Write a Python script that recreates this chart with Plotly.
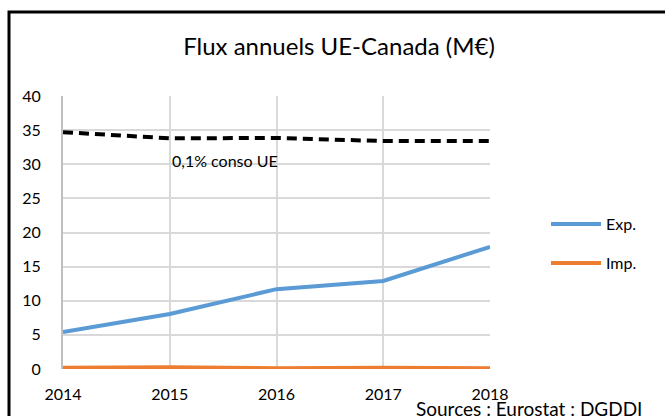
import plotly.graph_objects as go

years = [2014, 2015, 2016, 2017, 2018]
exp_vals = [5.4, 8.05, 11.7, 12.9, 17.9]
imp_vals = [0.2, 0.25, 0.1, 0.2, 0.1]
conso_vals = [34.7, 33.8, 33.85, 33.4, 33.4]
y_ticks = [0, 5, 10, 15, 20, 25, 30, 35, 40]

W, H = 665, 416
L, R, T, B = 63, 490, 96, 369
FONT = "Lato"

fig = go.Figure()
fig.add_trace(go.Scatter(x=years, y=conso_vals, mode="lines", showlegend=False,
                         line=dict(color="black", width=4, dash="10px,6px"), hoverinfo="skip"))
fig.add_trace(go.Scatter(x=years, y=exp_vals, mode="lines", name="Exp.", legend="legend",
                         line=dict(color="#5B9BD5", width=4)))
fig.add_trace(go.Scatter(x=years, y=imp_vals, mode="lines", name="Imp.", legend="legend2",
                         line=dict(color="#ED7D31", width=4)))

pw = R - L
ph = B - T
def px(x):
    return (x - L) / pw
def py(y):
    return (B - y) / ph

leg_common = dict(xanchor="left", yanchor="middle", font=dict(size=16, family=FONT),
                  bgcolor="rgba(0,0,0,0)", itemwidth=50)

fig.update_layout(
    width=W, height=H,
    margin=dict(l=L, r=W - R, t=T, b=H - B, pad=0),
    paper_bgcolor="white", plot_bgcolor="white",
    font=dict(family=FONT, size=16, color="black"),
    title=dict(text="Flux annuels UE-Canada (M€)", x=339 / W, xanchor="center",
               y=1 - 47 / H, yanchor="middle", font=dict(size=24, family=FONT)),
    xaxis=dict(range=[2014, 2018], tickvals=years, ticktext=[str(y) for y in years],
               showgrid=True, gridcolor="#D9D9D9", gridwidth=2, zeroline=False,
               showline=False, ticks="", ticklabelstandoff=14,
               tickfont=dict(size=16, family=FONT)),
    yaxis=dict(range=[0, 40], tickvals=y_ticks, showgrid=True, gridcolor="#D9D9D9",
               gridwidth=2, zeroline=False, showline=True, linecolor="#BFBFBF", linewidth=2,
               ticks="", ticklabelstandoff=17, tickfont=dict(size=16, family=FONT)),
    legend=dict(x=px(546), y=py(224), **leg_common),
    legend2=dict(x=px(546), y=py(263), **leg_common),
    showlegend=True,
)

fig.add_annotation(text="0,1% conso UE", x=2015, y=30.5, xref="x", yref="y",
                   xanchor="left", yanchor="middle", showarrow=False,
                   font=dict(size=16, family=FONT))
fig.add_annotation(text="Sources : Eurostat : DGDDI", x=px(643), y=py(415),
                   xref="paper", yref="paper", xanchor="right", yanchor="bottom",
                   showarrow=False, font=dict(size=19, family=FONT), borderpad=0,
                   yshift=-6)
fig.add_shape(type="rect", xref="paper", yref="paper",
              x0=px(9), x1=px(700), y0=py(450), y1=py(12),
              line=dict(color="black", width=3), fillcolor="rgba(0,0,0,0)", layer="above")

fig.write_html("out.html", config={"displayModeBar": False})
with open("out.html", encoding="utf-8") as f:
    html = f.read()
html = html.replace("<head>", "<head><style>html,body{margin:0;padding:0;overflow:hidden}</style>", 1)
with open("out.html", "w", encoding="utf-8") as f:
    f.write(html)
